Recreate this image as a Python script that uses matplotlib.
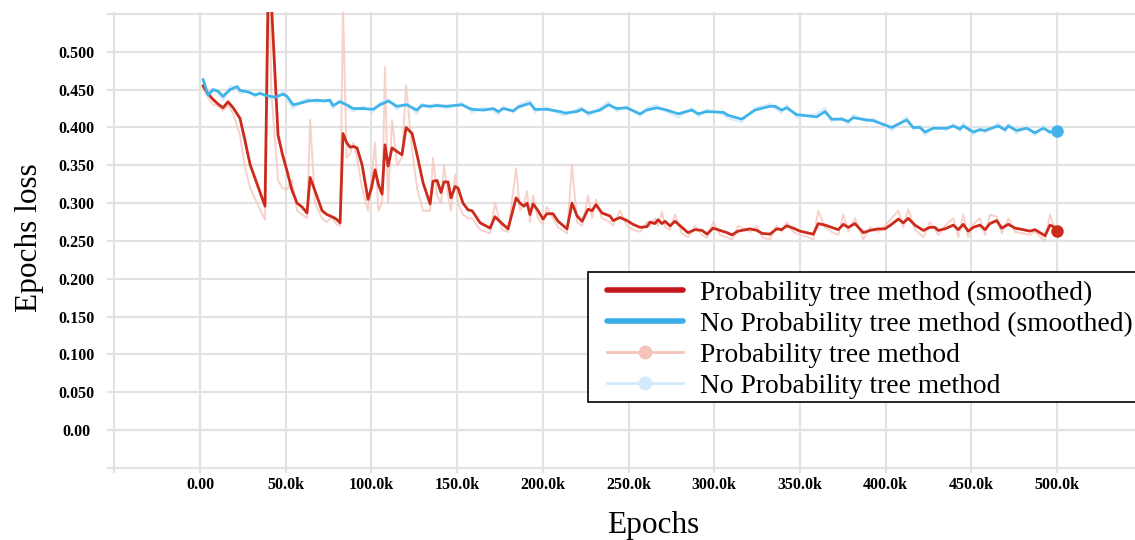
import matplotlib.pyplot as plt
from matplotlib.lines import Line2D
from matplotlib.patches import Rectangle

plt.rcParams['font.family'] = ['Liberation Serif', 'DejaVu Serif']

# steps in thousands, loss values
red_x = [1.8, 4.5, 7.6, 10.5, 13.4, 16.3, 19.3, 23.3, 26, 29.2,
         33.3, 37.9, 40.0, 41.5, 45.5, 48, 50.8, 53.5, 56.6, 59.5,
         62.4, 64.2, 67.1, 71.2, 74, 77, 79.5, 81.7, 83.4, 85.5,
         87.5, 89.5, 91.6, 94.5, 98, 100, 102.1, 104, 106.2, 107.9,
         109.7, 112, 115, 117.8, 120.2, 123.7, 126.6, 130.1, 134.2, 135.9,
         138.3, 140.6, 142.3, 144.7, 146.4, 148.8, 150.5, 153.4, 156.4, 158.7,
         163.4, 169.2, 172.1, 176.2, 179.7, 184.4, 186.7, 189, 190.8, 192.5,
         194.3, 197.2, 200.1, 202.4, 205.9, 208.9, 214.1, 217, 220, 222.9,
         226.4, 228.7, 231, 234.5, 239.2, 241, 245, 249.1, 252.6, 256.7,
         260.8, 262.5, 265.4, 267.2, 269.5, 271.3, 274.2, 277.1, 281.2, 284.7,
         288.8, 292.9, 295.8, 299.3, 303.4, 307.4, 310.4, 313.9, 320.9, 324.9,
         327.9, 332.5, 336.4, 339.3, 342.3, 346.1, 350, 353.9, 357.8, 360.7,
         364.6, 368.5, 372.4, 375.3, 378.2, 382.1, 387, 390.9, 395.7, 399.6,
         403.5, 407.4, 410.3, 413.2, 417.1, 422, 425.9, 428.8, 430.7, 434.6,
         439.5, 442.4, 445.3, 448.2, 451.1, 455, 458, 460.9, 464.8, 467.7,
         471.6, 475.5, 480.3, 484.2, 487.1, 493, 495.9, 498.8, 500]
red_smooth = [0.455, 0.445, 0.437, 0.431, 0.426, 0.434, 0.426, 0.412, 0.385, 0.351,
              0.325, 0.296, 0.62, 0.57, 0.39, 0.365, 0.342, 0.318, 0.30, 0.295,
              0.287, 0.334, 0.316, 0.29, 0.285, 0.282, 0.279, 0.274, 0.392, 0.38,
              0.374, 0.375, 0.373, 0.351, 0.305, 0.32, 0.344, 0.325, 0.312, 0.377,
              0.349, 0.373, 0.368, 0.364, 0.40, 0.392, 0.364, 0.327, 0.299, 0.329,
              0.33, 0.314, 0.328, 0.328, 0.307, 0.322, 0.32, 0.30, 0.291, 0.29,
              0.274, 0.267, 0.282, 0.273, 0.266, 0.307, 0.30, 0.296, 0.30, 0.285,
              0.299, 0.29, 0.279, 0.286, 0.286, 0.276, 0.266, 0.30, 0.283, 0.276,
              0.292, 0.29, 0.298, 0.287, 0.283, 0.277, 0.281, 0.277, 0.272, 0.268,
              0.269, 0.275, 0.273, 0.278, 0.273, 0.276, 0.27, 0.276, 0.268, 0.261,
              0.265, 0.264, 0.259, 0.267, 0.264, 0.261, 0.258, 0.263, 0.266, 0.264,
              0.26, 0.259, 0.266, 0.265, 0.27, 0.267, 0.263, 0.261, 0.259, 0.273,
              0.271, 0.268, 0.265, 0.272, 0.268, 0.273, 0.261, 0.264, 0.266, 0.266,
              0.272, 0.279, 0.274, 0.28, 0.271, 0.264, 0.268, 0.268, 0.264, 0.266,
              0.271, 0.265, 0.272, 0.263, 0.268, 0.271, 0.265, 0.273, 0.277, 0.267,
              0.272, 0.267, 0.265, 0.263, 0.265, 0.257, 0.271, 0.268, 0.263]
red_raw = [0.452, 0.44, 0.43, 0.428, 0.422, 0.43, 0.418, 0.39, 0.35, 0.32,
           0.30, 0.278, 0.70, 0.45, 0.33, 0.32, 0.318, 0.33, 0.29, 0.285,
           0.28, 0.41, 0.30, 0.28, 0.275, 0.282, 0.272, 0.27, 0.56, 0.36,
           0.365, 0.38, 0.36, 0.32, 0.29, 0.33, 0.38, 0.29, 0.30, 0.48,
           0.30, 0.41, 0.35, 0.36, 0.456, 0.37, 0.32, 0.29, 0.29, 0.36,
           0.31, 0.30, 0.35, 0.31, 0.29, 0.338, 0.30, 0.285, 0.28, 0.28,
           0.265, 0.26, 0.30, 0.265, 0.262, 0.346, 0.29, 0.30, 0.316, 0.275,
           0.31, 0.28, 0.272, 0.295, 0.28, 0.268, 0.26, 0.351, 0.275, 0.27,
           0.31, 0.28, 0.305, 0.28, 0.275, 0.27, 0.29, 0.27, 0.265, 0.262,
           0.275, 0.27, 0.28, 0.27, 0.289, 0.268, 0.265, 0.285, 0.26, 0.255,
           0.27, 0.258, 0.254, 0.275, 0.258, 0.255, 0.252, 0.27, 0.262, 0.27,
           0.255, 0.252, 0.27, 0.262, 0.275, 0.262, 0.258, 0.256, 0.252, 0.29,
           0.268, 0.262, 0.258, 0.285, 0.262, 0.28, 0.252, 0.268, 0.262, 0.27,
           0.28, 0.29, 0.268, 0.292, 0.265, 0.255, 0.275, 0.265, 0.258, 0.27,
           0.28, 0.255, 0.285, 0.255, 0.272, 0.28, 0.258, 0.285, 0.282, 0.26,
           0.28, 0.262, 0.26, 0.258, 0.262, 0.25, 0.285, 0.265, 0.262]

blue_x = [1.8, 4.7, 7.6, 10.5, 13.4, 17.5, 21.6, 23.3, 28, 32.1,
          35, 39.1, 43.8, 48.4, 50.8, 54.3, 58.3, 63, 68.3, 71.8,
          75.8, 77.6, 81.7, 86.3, 89.3, 95.1, 100.9, 105, 109.9, 114.8,
          120.6, 126.4, 129.3, 134.2, 138.1, 143.9, 152.7, 158.5, 165.3, 171.1,
          174, 176.9, 182.8, 185.7, 192.5, 195.4, 202.3, 210, 213, 219.8,
          222.7, 226.5, 233.4, 238.2, 243.1, 248.9, 256.7, 260.6, 266.4, 272.3,
          279, 286.9, 290.7, 295.6, 305.3, 308.2, 316, 323.8, 332.5, 335.5,
          339.4, 342.3, 348.1, 359.8, 364.6, 368.5, 374.4, 378.2, 381.1, 388.9,
          392.8, 403.5, 412.3, 416.1, 420, 423, 427.8, 435.6, 439.5, 443.4,
          445.3, 451.1, 455, 458, 465.7, 469.6, 471.6, 476.4, 482.3, 487.1,
          492, 495.9, 500]
blue_smooth = [0.463, 0.443, 0.45, 0.448, 0.441, 0.45, 0.454, 0.449, 0.447, 0.443,
               0.445, 0.442, 0.44, 0.444, 0.441, 0.43, 0.432, 0.435, 0.436, 0.435,
               0.436, 0.429, 0.434, 0.429, 0.425, 0.425, 0.424, 0.43, 0.435, 0.428,
               0.43, 0.423, 0.429, 0.428, 0.429, 0.428, 0.43, 0.424, 0.423, 0.425,
               0.421, 0.425, 0.422, 0.427, 0.432, 0.424, 0.424, 0.421, 0.419, 0.421,
               0.424, 0.419, 0.423, 0.43, 0.425, 0.426, 0.418, 0.423, 0.426, 0.423,
               0.418, 0.423, 0.418, 0.421, 0.42, 0.416, 0.411, 0.423, 0.428, 0.428,
               0.423, 0.426, 0.417, 0.414, 0.421, 0.411, 0.411, 0.408, 0.413, 0.41,
               0.409, 0.4, 0.41, 0.4, 0.4, 0.394, 0.399, 0.399, 0.402, 0.398,
               0.402, 0.394, 0.397, 0.396, 0.402, 0.397, 0.402, 0.396, 0.399, 0.393,
               0.399, 0.394, 0.396]
blue_raw = [0.465, 0.44, 0.452, 0.445, 0.436, 0.455, 0.452, 0.444, 0.45, 0.44,
            0.447, 0.438, 0.437, 0.448, 0.436, 0.425, 0.434, 0.438, 0.433, 0.437,
            0.433, 0.425, 0.437, 0.426, 0.421, 0.428, 0.42, 0.433, 0.437, 0.424,
            0.433, 0.418, 0.432, 0.425, 0.431, 0.425, 0.433, 0.42, 0.426, 0.422,
            0.417, 0.428, 0.419, 0.43, 0.436, 0.42, 0.427, 0.417, 0.416, 0.424,
            0.427, 0.415, 0.426, 0.434, 0.421, 0.429, 0.414, 0.426, 0.43, 0.42,
            0.413, 0.426, 0.414, 0.424, 0.417, 0.412, 0.407, 0.426, 0.431, 0.425,
            0.419, 0.43, 0.413, 0.418, 0.426, 0.407, 0.414, 0.404, 0.417, 0.407,
            0.412, 0.396, 0.414, 0.397, 0.403, 0.389, 0.402, 0.396, 0.405, 0.395,
            0.406, 0.39, 0.4, 0.393, 0.406, 0.394, 0.405, 0.392, 0.402, 0.389,
            0.403, 0.391, 0.397]

xticks = [-50, 0, 50, 100, 150, 200, 250, 300, 350, 400, 450, 500]
xtick_labels = ['', '0.00', '50.0k', '100.0k', '150.0k', '200.0k', '250.0k',
                '300.0k', '350.0k', '400.0k', '450.0k', '500.0k']
yticks = [-0.05, 0, 0.05, 0.1, 0.15, 0.2, 0.25, 0.3, 0.35, 0.4, 0.45, 0.5, 0.55]
ytick_labels = ['', '0.00', '0.050', '0.100', '0.150', '0.200', '0.250',
                '0.300', '0.350', '0.400', '0.450', '0.500', '']

labels = ['Probability tree method (smoothed)',
          'No Probability tree method (smoothed)',
          'Probability tree method',
          'No Probability tree method']

red = '#cc2a1a'
blue = '#3fb3ea'
red_pale = '#f5c3b9'
blue_pale = '#d3eafb'

W, H = 1135, 540
fig = plt.figure(figsize=(W / 100, H / 100), dpi=100)
ax = fig.add_axes([107 / W, 1 - 473 / H, 1 - 107 / W, (473 - 12) / H])

ax.plot(red_x, red_raw, color=red_pale, lw=1.4, alpha=0.75, zorder=2)
ax.plot(blue_x, blue_raw, color=blue_pale, lw=1.4, alpha=0.9, zorder=2)
ax.plot(red_x, red_smooth, color=red, lw=2.0, zorder=3)
ax.plot(blue_x, blue_smooth, color=blue, lw=2.0, zorder=3)
ax.plot(red_x[-1], red_smooth[-1], 'o', color=red, ms=8, zorder=4)
ax.plot(blue_x[-1], blue_smooth[-1], 'o', color=blue, ms=8, zorder=4)

ax.set_xlim(-54.3, 545.5)
ax.set_ylim(-0.0566, 0.5526)
ax.set_xticks(xticks)
ax.set_xticklabels(xtick_labels, fontweight='bold', fontsize=11.5)
ax.set_yticks(yticks)
ax.set_yticklabels(ytick_labels, fontweight='bold', fontsize=11.5)
for lab in ax.get_yticklabels():
    lab.set_ha('center')
ax.tick_params(axis='y', length=0, pad=22)
ax.tick_params(axis='x', length=0, pad=3)
ax.grid(True, color='#e2e2e2', lw=1.5, zorder=0)
ax.axhline(0, color='#a9a9a9', lw=1.5, zorder=1)
ax.axvline(0, color='#a9a9a9', lw=1.5, zorder=1)
for s in ax.spines.values():
    s.set_visible(False)

fig.text(30 / W, 1 - 238 / H, 'Epochs loss', rotation=90, fontsize=22.5,
         ha='center', va='center')
fig.text(653 / W, 1 - 525 / H, 'Epochs', fontsize=22.5, ha='center', va='center')

# legend box runs off the right edge of the figure
fig.patches.append(Rectangle((588 / W, 1 - 402 / H), (1145 - 588) / W, 130 / H,
                             transform=fig.transFigure, facecolor='white',
                             edgecolor='black', lw=1.2, zorder=4))

handles = [Line2D([], [], color='#c2161a', lw=4, solid_capstyle='round'),
           Line2D([], [], color='#3aaee6', lw=4, solid_capstyle='round'),
           Line2D([], [], color=red_pale, lw=2, marker='o', ms=9),
           Line2D([], [], color=blue_pale, lw=2, marker='o', ms=9)]
leg = fig.legend(handles, labels, loc='upper left',
                 bbox_to_anchor=(607 / W, 1 - 280.5 / H), fontsize=19.8,
                 frameon=False, handlelength=2.76, handletextpad=0.62,
                 labelspacing=0.21, borderpad=0, borderaxespad=0, numpoints=1)
leg.set_zorder(5)

fig.savefig('out.png', dpi=100)
